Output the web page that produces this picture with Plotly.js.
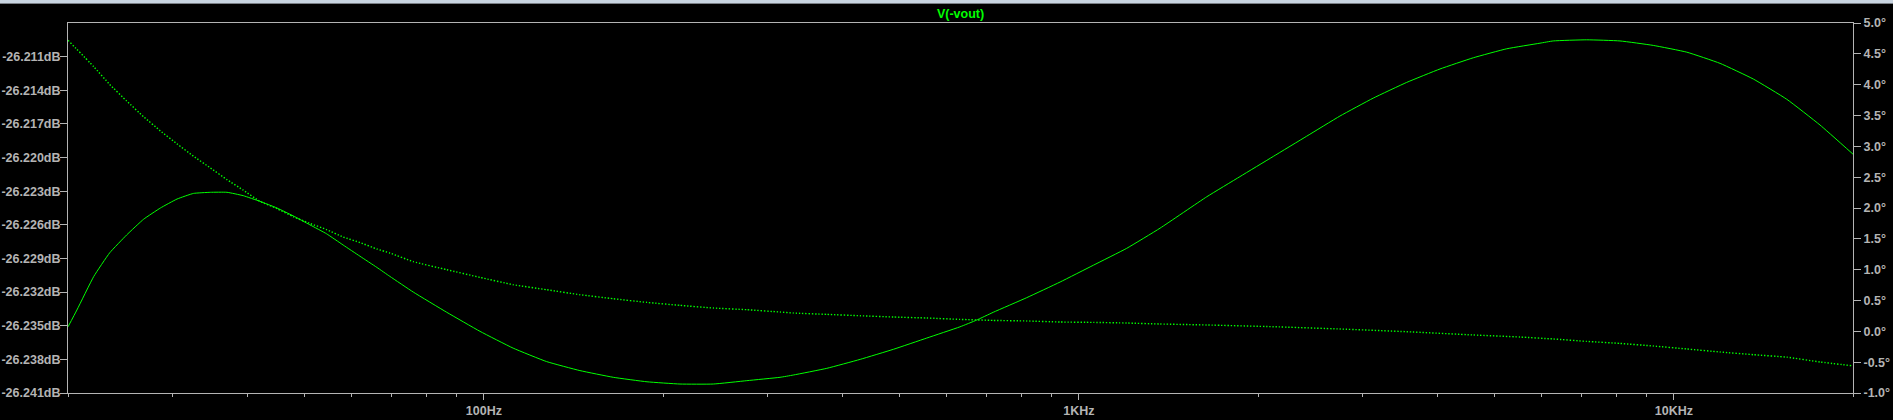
<!DOCTYPE html>
<html>
<head>
<meta charset="utf-8">
<script src="https://cdn.plot.ly/plotly-3.0.1.min.js"></script>
<style>
  html, body { margin: 0; padding: 0; background: #000; overflow: hidden; }
  #chart { width: 1893px; height: 420px; }
</style>
</head>
<body>
<div id="chart"></div>
<script>
// ---- Data (LTspice AC analysis of V(-vout)) ----
const magFreq = [20, 20.7, 22.1, 23.5, 25.1, 26.8, 28.6, 30.5, 32.5, 34.7, 37.0, 39.4, 42.0, 44.9, 47.8, 51.0, 54.4, 58.0, 61.9, 66.1, 69.5, 76.1, 86.6, 98.5, 112, 127.5, 145, 165, 188, 213.6, 243, 276.6, 314.6, 331, 377, 429, 488, 555, 631, 673, 718, 817, 930, 1058, 1203, 1369, 1640, 1865, 2122, 2414, 2746, 3124, 3555, 4045, 4602, 5236, 5956, 6270, 7136, 8118, 9234, 10510, 11956, 13602, 15476, 17604, 20000];
const magDb = [-26.2351, -26.2336, -26.2306, -26.2285, -26.2269, -26.2255, -26.2245, -26.2237, -26.2232, -26.2231, -26.2231, -26.2234, -26.2239, -26.2245, -26.2252, -26.2260, -26.2268, -26.2278, -26.2288, -26.2298, -26.2306, -26.2320, -26.2338, -26.2355, -26.2370, -26.2382, -26.2390, -26.2396, -26.2400, -26.2402, -26.2402, -26.2399, -26.2396, -26.2394, -26.2388, -26.2380, -26.2371, -26.2361, -26.2351, -26.2345, -26.2338, -26.2325, -26.2311, -26.2296, -26.2281, -26.2263, -26.2235, -26.2217, -26.2199, -26.2181, -26.2163, -26.2147, -26.2133, -26.2121, -26.2111, -26.2103, -26.2098, -26.2096, -26.2095, -26.2096, -26.2100, -26.2106, -26.2116, -26.2130, -26.2148, -26.2171, -26.2197];

const phaseFreq = [20, 22.1, 23.5, 25.1, 26.8, 28.6, 30.5, 32.5, 34.7, 37.0, 39.4, 42.0, 44.9, 47.8, 51.0, 54.4, 58.0, 61.9, 66.1, 69.5, 76.1, 86.6, 98.5, 112, 127.5, 145, 165, 188, 213.6, 243, 276.6, 314.6, 331, 377, 429, 488, 555, 631, 718, 817, 930, 1058, 1203, 1369, 1640, 2122, 2746, 3555, 4602, 5512, 6270, 7136, 8118, 9234, 10510, 11956, 13602, 15476, 17604, 20000];
const phaseDeg = [4.72, 4.29, 4.005, 3.735, 3.48, 3.25, 3.04, 2.84, 2.65, 2.46, 2.29, 2.11, 1.99, 1.86, 1.75, 1.65, 1.53, 1.44, 1.335, 1.27, 1.13, 1.00, 0.875, 0.756, 0.675, 0.594, 0.529, 0.469, 0.421, 0.378, 0.351, 0.313, 0.297, 0.275, 0.253, 0.232, 0.216, 0.194, 0.177, 0.168, 0.151, 0.145, 0.135, 0.119, 0.103, 0.075, 0.038, -0.006, -0.059, -0.092, -0.124, -0.163, -0.196, -0.238, -0.286, -0.335, -0.379, -0.419, -0.497, -0.56];

// ---- Axis ticks ----
const xMajorVals = [100, 1000, 10000];
const xMajorText = ['100Hz', '1KHz', '10KHz'];
const xMinorVals = [20, 30, 40, 50, 60, 70, 80, 90, 200, 300, 400, 500, 600, 700, 800, 900, 2000, 3000, 4000, 5000, 6000, 7000, 8000, 9000, 20000];
const dbTickVals = [-26.241, -26.238, -26.235, -26.232, -26.229, -26.226, -26.223, -26.220, -26.217, -26.214, -26.211];
const dbTickText = ['-26.241dB', '-26.238dB', '-26.235dB', '-26.232dB', '-26.229dB', '-26.226dB', '-26.223dB', '-26.220dB', '-26.217dB', '-26.214dB', '-26.211dB'];
const degTickVals = [-1.0, -0.5, 0.0, 0.5, 1.0, 1.5, 2.0, 2.5, 3.0, 3.5, 4.0, 4.5, 5.0];
const degTickText = ['-1.0°', '-0.5°', '0.0°', '0.5°', '1.0°', '1.5°', '2.0°', '2.5°', '3.0°', '3.5°', '4.0°', '4.5°', '5.0°'];
const seriesName = 'V(-vout)';

const GREEN = '#00ff00';
const AXIS = '#b4b4b4';
const TXT = '#b4b4b4';
const tickFont = { family: 'Liberation Sans, Arial, sans-serif', size: 12.5, color: TXT, weight: 'bold' };

const traces = [
  {
    x: magFreq, y: magDb, type: 'scatter', mode: 'lines', name: seriesName + ' (dB)',
    line: { color: GREEN, width: 1, shape: 'spline', smoothing: 0.4 },
    xaxis: 'x', yaxis: 'y', hoverinfo: 'skip'
  },
  {
    x: phaseFreq, y: phaseDeg, type: 'scatter', mode: 'lines', name: seriesName + ' (phase)',
    line: { color: GREEN, width: 1.4, dash: '1.4px,1.8px', shape: 'spline', smoothing: 0.4 },
    xaxis: 'x', yaxis: 'y2', hoverinfo: 'skip'
  }
];

const layout = {
  width: 1893, height: 420,
  paper_bgcolor: '#000000', plot_bgcolor: '#000000',
  margin: { l: 68, r: 40, t: 23, b: 27, pad: 0 },
  showlegend: false,
  title: {
    text: seriesName,
    font: { family: 'Liberation Sans, Arial, sans-serif', size: 12.5, color: GREEN, weight: 'bold' },
    x: 0.5, xref: 'paper', xanchor: 'center',
    y: 1 - 14 / 420, yref: 'container', yanchor: 'middle'
  },
  xaxis: {
    type: 'log',
    range: [Math.log10(20), Math.log10(20000)],
    tickmode: 'array', tickvals: xMajorVals, ticktext: xMajorText,
    ticks: 'outside', ticklen: 6, tickwidth: 1, tickcolor: AXIS,
    tickfont: tickFont,
    showline: true, linecolor: AXIS, linewidth: 1, mirror: true,
    showgrid: false, zeroline: false,
    minor: { tickmode: 'array', tickvals: xMinorVals, ticks: 'outside', ticklen: 3, tickwidth: 1, tickcolor: AXIS, showgrid: false }
  },
  yaxis: {
    range: [-26.241, -26.208],
    tickmode: 'array', tickvals: dbTickVals, ticktext: dbTickText,
    ticks: 'outside', ticklen: 7, tickwidth: 1, tickcolor: AXIS,
    ticklabelstandoff: -3,
    tickfont: tickFont,
    showline: true, linecolor: AXIS, linewidth: 1,
    showgrid: false, zeroline: false
  },
  yaxis2: {
    range: [-1, 5], overlaying: 'y', side: 'right',
    tickmode: 'array', tickvals: degTickVals, ticktext: degTickText,
    ticks: 'outside', ticklen: 7, tickwidth: 1, tickcolor: AXIS,
    tickfont: tickFont,
    showline: true, linecolor: AXIS, linewidth: 1,
    showgrid: false, zeroline: false
  },
  shapes: [
    { type: 'rect', xref: 'paper', yref: 'paper', x0: -0.05, x1: 1.05, y0: 1 + 20 / 370, y1: 1 + 23 / 370,
      fillcolor: '#c9d4e0', line: { width: 0 }, layer: 'above' },
    { type: 'rect', xref: 'paper', yref: 'paper', x0: -0.05, x1: 1.05, y0: 1 + 19 / 370, y1: 1 + 20 / 370,
      fillcolor: '#7a7f86', line: { width: 0 }, layer: 'above' }
  ]
};

Plotly.newPlot('chart', traces, layout, { staticPlot: true, displayModeBar: false });
</script>
</body>
</html>
